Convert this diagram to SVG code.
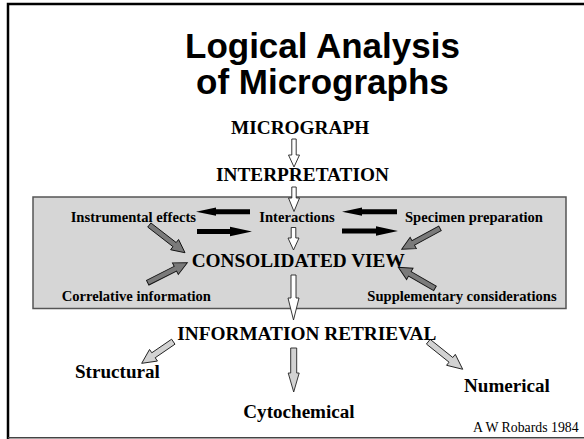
<svg xmlns="http://www.w3.org/2000/svg" width="584" height="439" viewBox="0 0 584 439">
<style>
.t{font-family:"Liberation Serif","Times New Roman",serif;font-weight:bold;fill:#000}
.s{font-size:14.6px}
.b{font-size:19.3px}
.title{font-family:"Liberation Sans",Arial,sans-serif;font-weight:bold;font-size:35px;fill:#000}
.blk{fill:#000;stroke:none}
.dg{fill:#7a7a7a;stroke:#111;stroke-width:0.9}
.lg{fill:#d2d2d2;stroke:#222;stroke-width:0.9}
.wh{fill:#fff;stroke:#222;stroke-width:0.9}
</style>
<rect x="0" y="0" width="584" height="439" fill="#fff"/>
<g id="frame">
<path d="M8,439 V4 H584" fill="none" stroke="#000" stroke-width="2.5"/>
<path d="M8,437.8 H584" fill="none" stroke="#444" stroke-width="1.5"/>
</g>
<g id="title">
<text class="title" x="185" y="58">Logical Analysis</text>
<text class="title" x="196" y="94">of Micrographs</text>
</g>
<g id="consolidation-box">
<rect x="33" y="197" width="533" height="111.5" fill="#d6d6d6" stroke="#555" stroke-width="1.5"/>
</g>
<g id="connectors">
<!-- vertical main-flow arrows -->
<polygon class="wh" points="291.8,139 296.2,139 296.2,155 299.5,155 294,167 288.5,155 291.8,155"/>
<polygon class="wh" points="291.8,187 296.2,187 296.2,198 299.5,198 294,211.5 288.5,198 291.8,198"/>
<polygon class="wh" points="291.2,227.5 295.8,227.5 295.8,238 299,238 293.5,250 288,238 291.2,238"/>
<polygon class="wh" points="291,275 296,275 296,298 299,298 293.5,320 288,298 291,298"/>
<polygon class="lg" points="290.7,348 296.7,348 296.7,373 299.2,373 293.7,392 288.2,373 290.7,373"/>
<!-- black interaction arrows -->
<polygon class="blk" points="196,211.7 216,207.6 216,209.2 250,209.2 250,214.2 216,214.2 216,215.8"/>
<polygon class="blk" points="197,229 230,229 230,226.8 252,231.5 230,236.2 230,234 197,234"/>
<polygon class="blk" points="342,211.7 362,207.6 362,209.2 397,209.2 397,214.2 362,214.2 362,215.8"/>
<polygon class="blk" points="342,228.5 376,228.5 376,226.3 398,231 376,235.7 376,233.5 342,233.5"/>
<!-- grey diagonal arrows into the consolidated view -->
<polygon class="dg" transform="translate(149.3,225) rotate(37.8)" points="0,-2.6 32,-2.6 32,-6.5 45.2,0 32,6.5 32,2.6 0,2.6"/>
<polygon class="dg" transform="translate(147.7,282.7) rotate(-26.8)" points="0,-2.6 31,-2.6 31,-6.5 44.4,0 31,6.5 31,2.6 0,2.6"/>
<polygon class="dg" transform="translate(440,228.3) rotate(151.3)" points="0,-2.6 30.5,-2.6 30.5,-6.5 43.7,0 30.5,6.5 30.5,2.6 0,2.6"/>
<polygon class="dg" transform="translate(435,288.3) rotate(-150.2)" points="0,-2.6 29,-2.6 29,-6.5 42.3,0 29,6.5 29,2.6 0,2.6"/>
<!-- information retrieval branches -->
<polygon class="lg" transform="translate(173.3,341.7) rotate(145.6)" points="0,-3 24,-3 24,-7 38.3,0 24,7 24,3 0,3"/>
<polygon class="lg" transform="translate(428.3,341.7) rotate(38.7)" points="0,-3 29,-3 29,-7 44.1,0 29,7 29,3 0,3"/>
</g>
<g id="micrograph"><text class="t b" x="231" y="134">MICROGRAPH</text></g>
<g id="interpretation"><text class="t b" x="216" y="181">INTERPRETATION</text></g>
<g id="instrumental-effects"><text class="t s" x="70.7" y="222">Instrumental effects</text></g>
<g id="interactions"><text class="t s" x="259.3" y="222">Interactions</text></g>
<g id="specimen-preparation"><text class="t s" x="405" y="222">Specimen preparation</text></g>
<g id="consolidated-view"><text class="t b" x="191.7" y="266.5">CONSOLIDATED VIEW</text></g>
<g id="correlative-information"><text class="t s" x="61.7" y="300.5">Correlative information</text></g>
<g id="supplementary-considerations"><text class="t s" x="367.3" y="300.5">Supplementary considerations</text></g>
<g id="information-retrieval"><text class="t b" x="177.3" y="340">INFORMATION RETRIEVAL</text></g>
<g id="structural"><text class="t" style="font-size:19.1px" x="75" y="378">Structural</text></g>
<g id="cytochemical"><text class="t" style="font-size:19.1px" x="243.3" y="418">Cytochemical</text></g>
<g id="numerical"><text class="t" style="font-size:19.1px" x="464" y="391.5">Numerical</text></g>
<g id="credit"><text x="473" y="432" style="font-family:'Liberation Serif','Times New Roman',serif;font-size:13.8px;fill:#000">A W Robards 1984</text></g>
</svg>
